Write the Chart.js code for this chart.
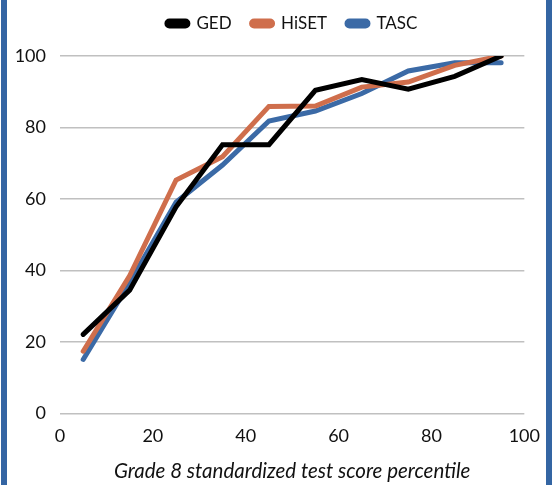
<!DOCTYPE html>
<html>
<head>
<meta charset="utf-8">
<script src="https://cdn.jsdelivr.net/npm/chart.js@4"></script>
<style>
  html, body { margin: 0; padding: 0; background: #fff; }
  #wrap { position: relative; width: 552px; height: 485px; overflow: hidden; }
  #wrap canvas { position: absolute; left: 0; top: 0; }
  .edge { position: absolute; top: 0; bottom: 0; width: 6px; background: #3465a3; }
  #edgeL { left: 1px; }
  #edgeR { left: 546px; }
</style>
</head>
<body>
<div id="wrap">
  <canvas id="chart" width="552" height="485"></canvas>
  <div class="edge" id="edgeL"></div>
  <div class="edge" id="edgeR"></div>
</div>
<script>
// ---- data ----
const percentiles = [5, 15, 25, 35, 45, 55, 65, 75, 85, 95]
const ged   = [22.1, 34.5, 57.8, 75.2, 75.2, 90.4, 93.4, 90.7, 94.3, 100]
const hiset = [17.4, 38.5, 65.3, 71.8, 85.9, 86.0, 91.3, 92.7, 97.4, 100]
const tasc  = [15.1, 36.6, 59.1, 69.5, 81.8, 84.6, 89.5, 95.8, 98.1, 98.1]
const yTicks = [0, 20, 40, 60, 80, 100]
const xTicks = [0, 20, 40, 60, 80, 100]

const FONT = "Lato, 'Open Sans', sans-serif"

function toPoints(values) {
  return values.map((v, i) => ({ x: percentiles[i], y: v }))
}

function lineSet(label, values, color) {
  return {
    label: label,
    data: toPoints(values),
    borderColor: color,
    backgroundColor: color,
    borderWidth: 5,
    borderCapStyle: "round",
    borderJoinStyle: "miter",
    pointRadius: 0,
    tension: 0,
  }
}

// keep the legend block a fixed height so the plot top lands where it should
const legendHeight = {
  id: "legendHeight",
  beforeInit(chart) {
    const fit = chart.legend.fit
    chart.legend.fit = function () {
      fit.call(this)
      this.height = 61
    }
  },
}

new Chart(document.getElementById("chart"), {
  type: "line",
  data: {
    datasets: [
      lineSet("GED", ged, "#000000"),
      lineSet("HiSET", hiset, "#cf6e4c"),
      lineSet("TASC", tasc, "#3b6aa6"),
    ],
  },
  plugins: [legendHeight],
  options: {
    responsive: false,
    animation: false,
    layout: { padding: { top: -5, right: 25, bottom: 0, left: 0 } },
    plugins: {
      tooltip: { enabled: false },
      legend: {
        position: "top",
        fullSize: false,
        labels: {
          font: { family: FONT, size: 17 },
          color: "#111",
          boxWidth: 21,
          boxHeight: 5,
          padding: 20,
          useBorderRadius: true,
          borderRadius: 2.5,
        },
      },
    },
    scales: {
      x: {
        type: "linear",
        min: 0,
        max: 100,
        afterBuildTicks: (s) => { s.ticks = xTicks.map((v) => ({ value: v })) },
        afterFit: (s) => { s.height = 71.6 },
        grid: { display: false, drawTicks: false },
        border: { display: false },
        ticks: {
          font: { family: FONT, size: 18 },
          color: "#111",
          padding: 12,
          maxRotation: 0,
        },
        title: {
          display: true,
          text: "Grade 8 standardized test score percentile",
          font: { family: FONT, size: 20.5, style: "italic" },
          color: "#111",
          padding: { top: 0, bottom: 1 },
        },
      },
      y: {
        min: 0,
        max: 100,
        afterBuildTicks: (s) => { s.ticks = yTicks.map((v) => ({ value: v })) },
        afterFit: (s) => { s.width = 60 },
        grid: { color: "#c0c0c0", lineWidth: 1.4, drawTicks: false },
        border: { display: false },
        ticks: {
          font: { family: FONT, size: 18 },
          color: "#111",
          padding: 14,
        },
      },
    },
  },
})
</script>
</body>
</html>
